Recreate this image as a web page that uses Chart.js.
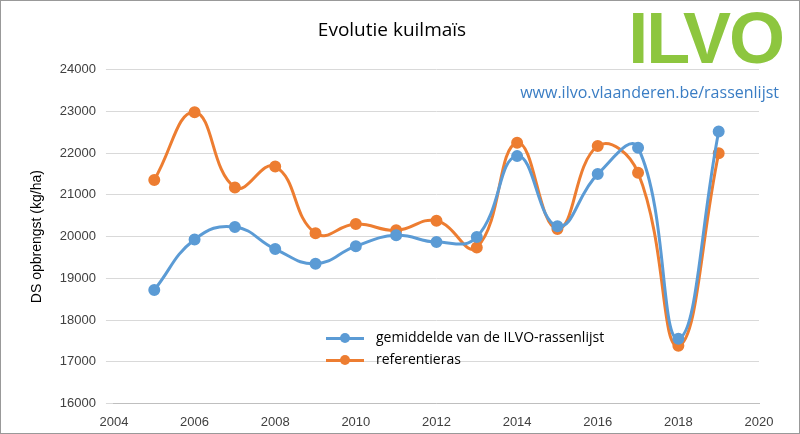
<!DOCTYPE html>
<html lang="en">
  <head>
    <meta charset="UTF-8" />
    <title>Evolutie kuilmaïs</title>
    <script src="https://cdn.jsdelivr.net/npm/chart.js"></script>
    <style>
      body { margin: 0; background: #fff; font-family: "Open Sans", sans-serif; }
      .wrap { position: relative; width: 798px; height: 432px; border: 1px solid #999; }
      .logo { position: absolute; right: 16px; top: -4px; font: bold 72px "Liberation Sans", sans-serif; color: #8dc63f; letter-spacing: -2px; }
      .url { position: absolute; right: 20px; top: 80px; font-size: 16px; color: #3a7dc4; }
      .legend { position: absolute; left: 325px; top: 325px; font-size: 14px; line-height: 22px; }
      .legend span { display: inline-block; width: 38px; height: 3px; vertical-align: middle; margin-right: 12px; position: relative; }
      .legend span::after { content: ""; position: absolute; left: 14px; top: -4px; width: 10px; height: 10px; border-radius: 50%; background: inherit; }
    </style>
  </head>
  <body>
    <div class="wrap">
      <canvas id="chart" width="798" height="432"></canvas>
      <div class="logo">ILVO</div>
      <div class="url">www.ilvo.vlaanderen.be/rassenlijst</div>
      <div class="legend">
        <div><span style="background:#5b9bd5"></span>gemiddelde van de ILVO-rassenlijst</div>
        <div><span style="background:#ed7d31"></span>referentieras</div>
      </div>
    </div>
    <script>
      const years = [2005, 2006, 2007, 2008, 2009, 2010, 2011, 2012, 2013, 2014, 2015, 2016, 2017, 2018, 2019];
      const gemiddelde = [18720, 19930, 20230, 19700, 19350, 19770, 20030, 19870, 19990, 21930, 20250, 21500, 22130, 17550, 22520];
      const referentieras = [21360, 22980, 21180, 21680, 20080, 20300, 20150, 20380, 19740, 22250, 20180, 22170, 21530, 17380, 22000];

      const toPoints = (vals) => years.map((y, i) => ({ x: y, y: vals[i] }));

      new Chart(document.getElementById("chart"), {
        type: "line",
        data: {
          datasets: [
            { label: "gemiddelde van de ILVO-rassenlijst", data: toPoints(gemiddelde), borderColor: "#5b9bd5", backgroundColor: "#5b9bd5", borderWidth: 3, pointRadius: 4.5, tension: 0.45 },
            { label: "referentieras", data: toPoints(referentieras), borderColor: "#ed7d31", backgroundColor: "#ed7d31", borderWidth: 3, pointRadius: 4.5, tension: 0.45 },
          ],
        },
        options: {
          responsive: false,
          animation: false,
          layout: { padding: { left: 24, right: 40, top: 10, bottom: 0 } },
          plugins: {
            legend: { display: false },
            title: { display: true, text: "Evolutie kuilmaïs", color: "#000", font: { size: 19, family: "Open Sans", weight: "normal" }, padding: { top: 8, bottom: 28 } },
          },
          scales: {
            x: {
              type: "linear", min: 2004, max: 2020,
              ticks: { stepSize: 2, color: "#404040", font: { size: 13 }, callback: (v) => String(v) },
              grid: { display: false },
              border: { color: "#bfbfbf" },
            },
            y: {
              min: 16000, max: 24000,
              ticks: { stepSize: 1000, color: "#404040", font: { size: 13 }, padding: 10, callback: (v) => String(v) },
              grid: { color: "#d9d9d9" },
              border: { display: false },
              title: { display: true, text: "DS opbrengst (kg/ha)", color: "#000", font: { size: 14 } },
            },
          },
        },
      });
    </script>
  </body>
</html>
